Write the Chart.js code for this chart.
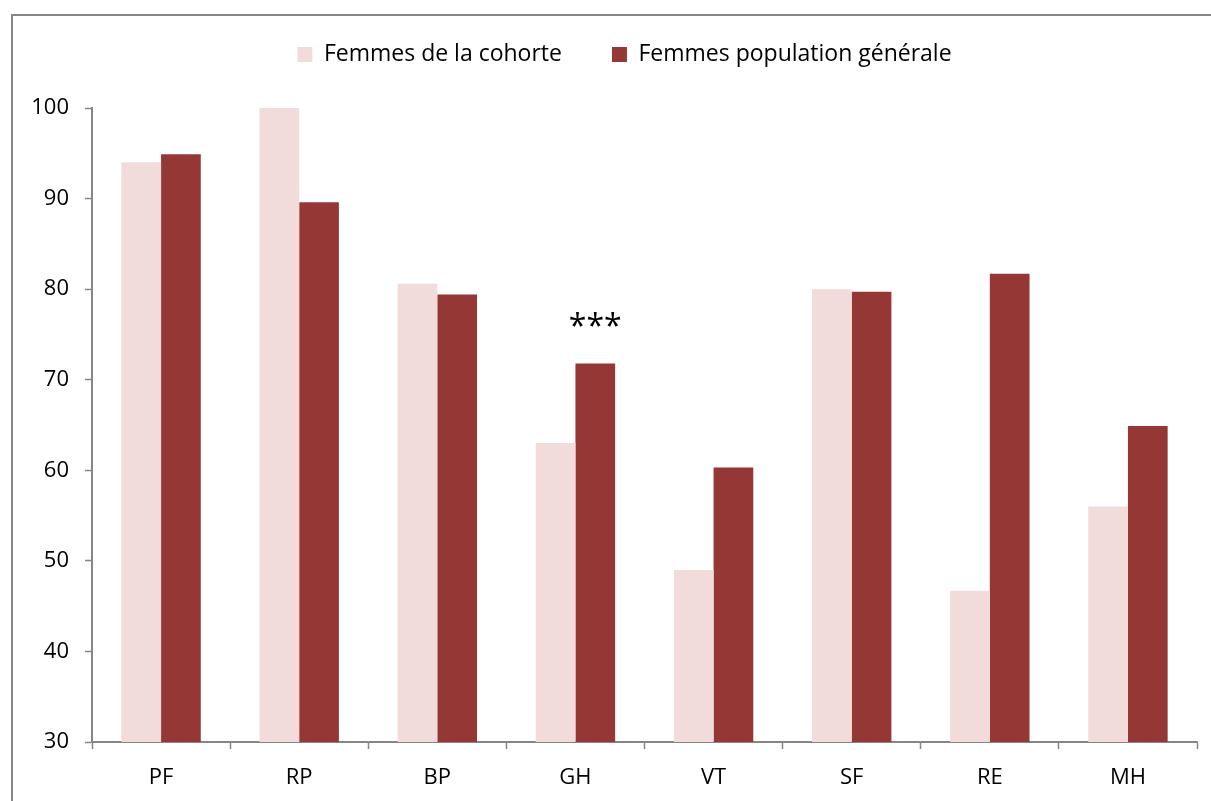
<!DOCTYPE html>
<html lang="fr">
<head>
<meta charset="utf-8">
<title>Femmes de la cohorte vs population générale</title>
<script src="https://cdn.jsdelivr.net/npm/chart.js@4.4.1/dist/chart.umd.min.js"></script>
<style>
    html, body { margin: 0; padding: 0; background: #ffffff; overflow: hidden; }
    #wrap { position: absolute; left: 0; top: 0; width: 1211px; height: 801px; }
</style>
</head>
<body>
<div id="wrap"><canvas id="scoreChart" width="1211" height="801"></canvas></div>
<script>
// Chart data
const categories = ['PF', 'RP', 'BP', 'GH', 'VT', 'SF', 'RE', 'MH'];
const cohorte = [94.0, 100.0, 80.6, 63.0, 49.0, 80.0, 46.7, 56.0];
const populationGenerale = [94.9, 89.6, 79.4, 71.8, 60.3, 79.7, 81.7, 64.9];
const significance = ['', '', '', '***', '', '', '', ''];
const yTicks = [30, 40, 50, 60, 70, 80, 90, 100];

const fontFamily = "'Open Sans', 'Liberation Sans', sans-serif";
const axisGray = '#868686';
const legendShiftX = 26;
const legendShiftY = -15;

// Outer frame around the whole chart
const framePlugin = {
    id: 'frame',
    beforeDraw(chart) {
        const ctx = chart.ctx;
        ctx.save();
        ctx.strokeStyle = axisGray;
        ctx.lineWidth = 2;
        ctx.strokeRect(12, 15, 1400, 1000);
        ctx.restore();
    }
};

// Fixed legend height, and legend nudged into place
const legendHeightPlugin = {
    id: 'legendHeight',
    beforeInit(chart) {
        const legend = chart.legend;
        const originalFit = legend.fit;
        legend.fit = function () {
            originalFit.call(this);
            this.height = 100;
        };
        const originalDraw = legend.draw;
        legend.draw = function () {
            this.left += legendShiftX;
            this.right += legendShiftX;
            this.top += legendShiftY;
            this.bottom += legendShiftY;
            originalDraw.call(this);
            this.left -= legendShiftX;
            this.right -= legendShiftX;
            this.top -= legendShiftY;
            this.bottom -= legendShiftY;
        };
    }
};

// Significance stars above the second series
const starsPlugin = {
    id: 'stars',
    afterDatasetsDraw(chart) {
        const ctx = chart.ctx;
        const meta = chart.getDatasetMeta(1);
        ctx.save();
        ctx.fillStyle = '#000000';
        ctx.font = '32px ' + fontFamily;
        ctx.textAlign = 'center';
        ctx.textBaseline = 'middle';
        significance.forEach((mark, i) => {
            if (!mark) return;
            const bar = meta.data[i];
            ctx.fillText(mark, bar.x, bar.y - 36);
        });
        ctx.restore();
    }
};

const ctx = document.getElementById('scoreChart').getContext('2d');
new Chart(ctx, {
    type: 'bar',
    data: {
        labels: categories,
        datasets: [{
            label: 'Femmes de la cohorte',
            data: cohorte,
            backgroundColor: '#F2DCDB',
            borderWidth: 0
        }, {
            label: 'Femmes population générale',
            data: populationGenerale,
            backgroundColor: '#953735',
            borderWidth: 0
        }]
    },
    options: {
        responsive: false,
        animation: false,
        layout: {
            padding: { top: 8, right: 14, left: 0, bottom: 0 }
        },
        datasets: {
            bar: {
                categoryPercentage: 0.575,
                barPercentage: 1.0
            }
        },
        plugins: {
            legend: {
                position: 'top',
                align: 'center',
                labels: {
                    boxWidth: 15,
                    boxHeight: 15,
                    padding: 50,
                    color: '#000000',
                    font: { family: fontFamily, size: 23 }
                }
            },
            tooltip: { enabled: false }
        },
        scales: {
            x: {
                afterFit(scale) { scale.height = 59; },
                grid: {
                    offset: true,
                    drawOnChartArea: false,
                    drawTicks: true,
                    tickLength: 7,
                    tickColor: axisGray,
                    tickWidth: 1.5
                },
                border: { color: axisGray, width: 2 },
                ticks: {
                    color: '#000000',
                    padding: 16,
                    font: { family: fontFamily, size: 22 }
                }
            },
            y: {
                min: 30,
                max: 100,
                afterFit(scale) { scale.width = 92; },
                afterBuildTicks(scale) {
                    scale.ticks = yTicks.map(v => ({ value: v }));
                },
                grid: {
                    drawOnChartArea: false,
                    drawTicks: true,
                    tickLength: 7,
                    tickColor: axisGray,
                    tickWidth: 1.5
                },
                border: { color: axisGray, width: 2 },
                ticks: {
                    color: '#000000',
                    padding: 16,
                    font: { family: fontFamily, size: 22 }
                }
            }
        }
    },
    plugins: [framePlugin, legendHeightPlugin, starsPlugin]
});
</script>
</body>
</html>
